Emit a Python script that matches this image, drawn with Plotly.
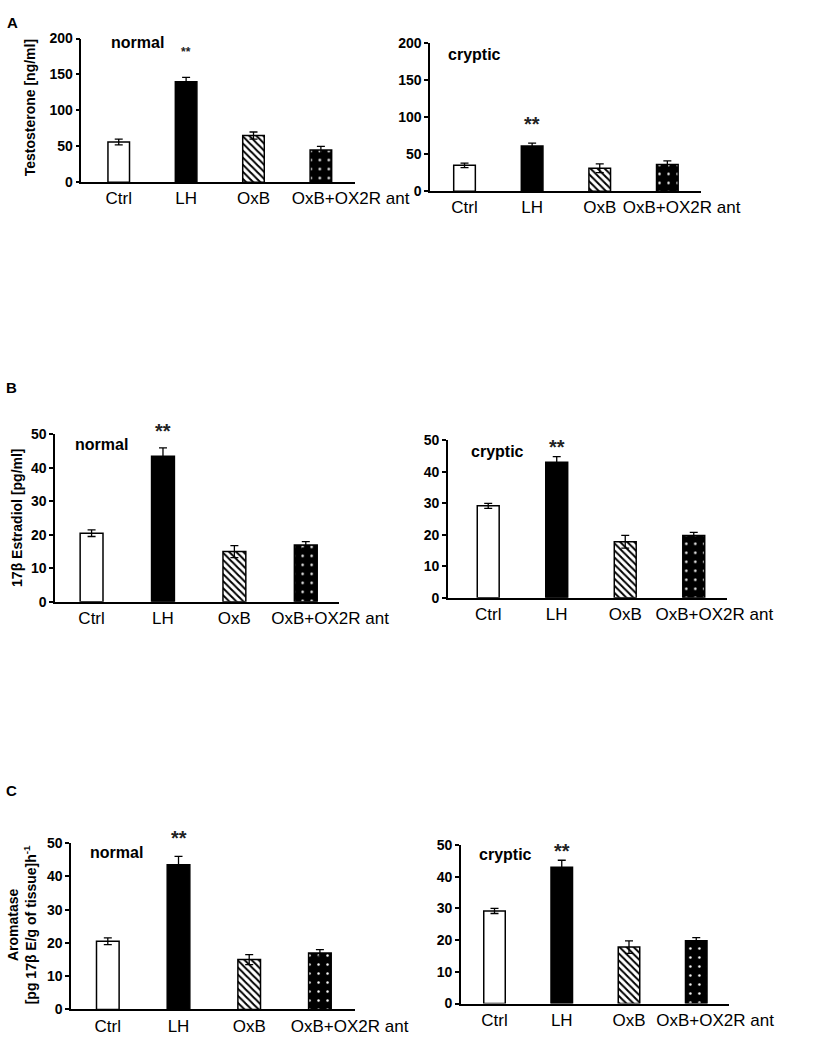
import plotly.graph_objects as go

W, H = 829, 1048
FONT = "Liberation Sans"

categories = ["Ctrl", "LH", "OxB", "OxB+OX2R ant"]

# Panel A: Testosterone [ng/ml]
testo_normal = [56, 140, 65, 45]
testo_normal_err = [4, 6, 5, 5]
testo_cryptic = [35, 61, 31, 36]
testo_cryptic_err = [3, 4, 6, 5]

# Panel B: 17β Estradiol [pg/ml]
estr_normal = [20.5, 43.5, 15.0, 17.0]
estr_normal_err = [1.0, 2.5, 1.8, 1.0]
estr_cryptic = [29.2, 43.0, 17.8, 19.8]
estr_cryptic_err = [0.8, 1.8, 2.0, 1.0]

# Panel C: Aromatase
arom_normal = [20.5, 43.5, 15.0, 17.0]
arom_normal_err = [1.0, 2.5, 1.5, 1.0]
arom_cryptic = [29.2, 43.0, 17.8, 19.8]
arom_cryptic_err = [0.8, 2.2, 2.0, 1.0]

# significance marker heights (data units)
sig_y = [181, 91, 51, 48, 51.5, 48]
sig_size = [12, 20, 20, 20, 20, 20]

panels = [
    dict(vals=testo_normal, err=testo_normal_err, x0=87, x1=380, yb=177, yt=31, ymax=200, dt=50,
         xr=[-0.555, 3.51], label="normal", lx=-0.139, ly=194.5, last=3.44),
    dict(vals=testo_cryptic, err=testo_cryptic_err, x0=460, x1=750, yb=186, yt=36, ymax=200, dt=50,
         xr=[-0.51, 3.5], label="cryptic", lx=-0.275, ly=185, last=3.21),
    dict(vals=estr_normal, err=estr_normal_err, x0=59, x1=363, yb=603, yt=433, ymax=50, dt=10,
         xr=[-0.51, 3.47], label="normal", lx=-0.261, ly=47, last=3.34),
    dict(vals=estr_cryptic, err=estr_cryptic_err, x0=479, x1=778, yb=599, yt=439, ymax=50, dt=10,
         xr=[-0.59, 3.49], label="cryptic", lx=-0.276, ly=46.6, last=3.30),
    dict(vals=arom_normal, err=arom_normal_err, x0=76, x1=380, yb=1017, yt=848, ymax=50, dt=10,
         xr=[-0.52, 3.5], label="normal", lx=-0.282, ly=47.3, last=3.42),
    dict(vals=arom_cryptic, err=arom_cryptic_err, x0=493, x1=780, yb=1011, yt=850, ymax=50, dt=10,
         xr=[-0.5, 3.49], label="cryptic", lx=-0.264, ly=46.9, last=3.28),
]

styles = [
    dict(color="white", pattern=dict(shape="")),
    dict(color="black", pattern=dict(shape="")),
    dict(color="white", pattern=dict(shape="\\", fgcolor="black", bgcolor="white",
                                     size=5, solidity=0.4, fillmode="replace")),
    dict(color="black", pattern=dict(shape=".", fgcolor="white", bgcolor="black",
                                     size=9, solidity=0.06, fillmode="replace")),
]

fig = go.Figure()
annotations = []
layout = {}
for i, p in enumerate(panels):
    n = "" if i == 0 else str(i + 1)
    xa, ya = "x" + n, "y" + n
    for j, cat in enumerate(categories):
        st = styles[j]
        fig.add_trace(go.Bar(
            x=[j], y=[p["vals"][j]], xaxis=xa, yaxis=ya, width=0.32, name=cat,
            marker=dict(color=st["color"], line=dict(color="black", width=1.5),
                        pattern=st["pattern"]),
            error_y=dict(type="data", array=[p["err"][j]], color="black", thickness=1.3, width=4),
            showlegend=False, hoverinfo="skip",
        ))
    label_pos = [0, 1, 2, p["last"]]
    layout["xaxis" + n] = dict(
        domain=[p["x0"] / W, p["x1"] / W], anchor=ya, range=p["xr"],
        tickvals=label_pos, ticktext=categories, tickangle=0,
        showline=True, linecolor="black", linewidth=1.5, ticks="", showgrid=False,
        zeroline=False, tickfont=dict(family=FONT, size=17, color="black"),
        fixedrange=True,
    )
    layout["yaxis" + n] = dict(
        domain=[1 - p["yb"] / H, 1 - p["yt"] / H], anchor=xa, range=[0, p["ymax"]],
        dtick=p["dt"], showline=True, linecolor="black", linewidth=1.5,
        ticks="outside", ticklen=4, tickwidth=1.5, tickcolor="black", showgrid=False,
        zeroline=False, tickfont=dict(family=FONT, size=14, color="black", weight="bold"),
        fixedrange=True,
    )
    annotations.append(dict(
        x=p["lx"], y=p["ly"] / p["ymax"], xref=xa, yref=ya + " domain", text=p["label"],
        showarrow=False, xanchor="left", yanchor="middle",
        font=dict(family=FONT, size=16, color="black", weight="bold"),
    ))
    annotations.append(dict(
        x=1, y=sig_y[i] / p["ymax"], xref=xa, yref=ya + " domain", text="**", showarrow=False,
        xanchor="center", yanchor="middle",
        font=dict(family=FONT, size=sig_size[i], color="#222", weight="bold"),
    ))

annotations += [
    dict(x=33 / W, y=1 - 101 / H, xref="paper", yref="paper", text="Testosterone [ng/ml]",
         textangle=-90, showarrow=False, xanchor="center", yanchor="middle",
         font=dict(family=FONT, size=14, color="black", weight="bold")),
    dict(x=18 / W, y=1 - 518 / H, xref="paper", yref="paper", text="17β Estradiol [pg/ml]",
         textangle=-90, showarrow=False, xanchor="center", yanchor="middle",
         font=dict(family=FONT, size=14, color="black", weight="bold")),
    dict(x=23 / W, y=1 - 931 / H, xref="paper", yref="paper",
         text="Aromatase<br>[pg 17β E/g of tissue]h<sup>-1</sup>",
         textangle=-90, showarrow=False, xanchor="center", yanchor="middle",
         font=dict(family=FONT, size=14, color="black", weight="bold")),
]
for letter, px, py in [("A", 13, 15), ("B", 12, 385), ("C", 12, 795)]:
    annotations.append(dict(x=px / W, y=1 - py / H, xref="paper", yref="paper", text=letter,
                            showarrow=False, xanchor="center", yanchor="middle",
                            font=dict(family=FONT, size=15, color="black", weight="bold")))

fig.update_layout(
    width=W, height=H, autosize=False, margin=dict(l=0, r=0, t=0, b=0, pad=0),
    paper_bgcolor="white", plot_bgcolor="white", barmode="overlay",
    annotations=annotations, **layout,
)
fig.write_html("out.html", config=dict(displayModeBar=False),
               post_script="document.body.style.margin='0';document.body.style.overflow='hidden';")
